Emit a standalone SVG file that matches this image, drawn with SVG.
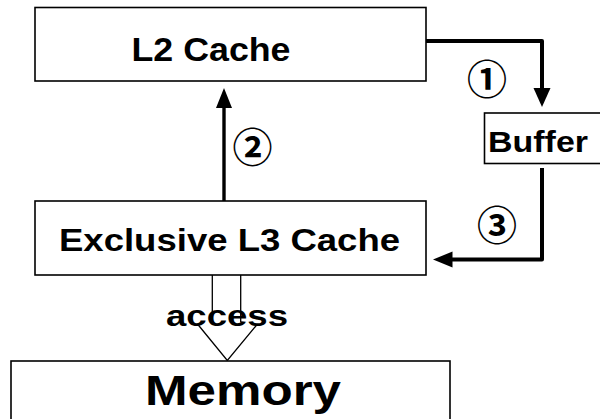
<svg xmlns="http://www.w3.org/2000/svg" width="600" height="419" viewBox="0 0 600 419">
  <style>
    .box { fill: #ffffff; stroke: #000000; stroke-width: 1.6; }
    .lbl { font-family: "Liberation Sans", Arial, Helvetica, sans-serif; font-weight: bold; fill: #000000; }
    .num { font-family: "Noto Sans CJK JP", "DejaVu Sans", sans-serif; font-weight: bold; fill: #000000; text-anchor: middle; font-size: 40px; }
    .flow { fill: none; stroke: #000000; stroke-width: 4; stroke-linejoin: round; }
    .thin { fill: none; stroke: #000000; stroke-width: 1.3; }
    .head { fill: #000000; stroke: none; }
  </style>
  <rect width="600" height="419" fill="#ffffff"/>

  <g id="connectors">
    <!-- 1: L2 Cache to Buffer -->
    <path class="flow" d="M426,41 H542 V90"/>
    <polygon class="head" points="533.5,88 550.5,88 542,107"/>
    <!-- 2: Exclusive L3 Cache up to L2 Cache -->
    <path class="flow" style="stroke-width:3.4" d="M224,201 V106"/>
    <polygon class="head" points="216,108 232,108 224,88"/>
    <!-- 3: Buffer back to Exclusive L3 Cache -->
    <path class="flow" d="M542,168 V259.5 H450"/>
    <polygon class="head" points="452.5,251.5 452.5,267.5 433,259.5"/>
    <!-- access: hollow arrow to Memory -->
    <path class="thin" d="M212.3,275 V322 M240.7,275 V322 M198.3,325 L227.3,360.5 L256.7,325"/>
  </g>

  <g id="l2-cache">
    <rect class="box" x="35" y="7.5" width="391" height="73.5"/>
    <text class="lbl" x="131.5" y="61" font-size="33" textLength="159" lengthAdjust="spacingAndGlyphs">L2 Cache</text>
  </g>

  <g id="buffer">
    <rect class="box" x="484.5" y="113" width="120" height="50.5"/>
    <text class="lbl" x="488" y="151.5" font-size="30" textLength="100" lengthAdjust="spacingAndGlyphs">Buffer</text>
  </g>

  <g id="exclusive-l3-cache">
    <rect class="box" x="35" y="201" width="391" height="74"/>
    <text class="lbl" x="59" y="251" font-size="32" textLength="341" lengthAdjust="spacingAndGlyphs">Exclusive L3 Cache</text>
  </g>

  <g id="memory">
    <rect class="box" x="11" y="361" width="439" height="70"/>
    <text class="lbl" x="145" y="405" font-size="43" textLength="196" lengthAdjust="spacingAndGlyphs">Memory</text>
  </g>

  <g id="access-label">
    <text class="lbl" x="166" y="325.5" font-size="30" textLength="122" lengthAdjust="spacingAndGlyphs">access</text>
  </g>

  <g id="step-labels">
    <text class="num" x="487" y="94">①</text>
    <text class="num" x="252.5" y="162">②</text>
    <text class="num" x="497" y="240">③</text>
  </g>
</svg>
